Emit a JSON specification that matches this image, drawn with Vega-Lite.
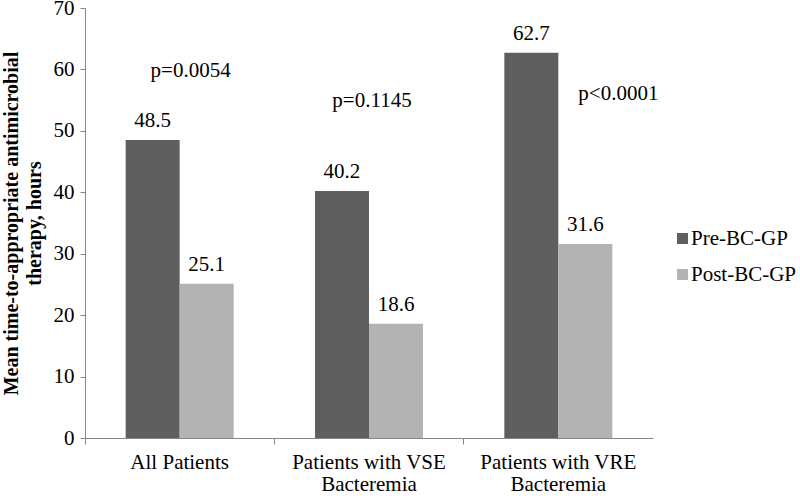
{
  "$schema": "https://vega.github.io/schema/vega-lite/v6.json",
  "width": 568,
  "height": 430,
  "autosize": {"type": "none"},
  "padding": {"left": 85, "top": 8, "right": 147, "bottom": 60},
  "background": "white",
  "config": {
    "view": {"stroke": null},
    "font": "Liberation Serif",
    "text": {"font": "Liberation Serif"}
  },
  "datasets": {
    "bars": [
      {"group": "All Patients", "period": "Pre-BC-GP", "hours": 48.5},
      {"group": "All Patients", "period": "Post-BC-GP", "hours": 25.1},
      {"group": "Patients with VSE Bacteremia", "period": "Pre-BC-GP", "hours": 40.2},
      {"group": "Patients with VSE Bacteremia", "period": "Post-BC-GP", "hours": 18.6},
      {"group": "Patients with VRE Bacteremia", "period": "Pre-BC-GP", "hours": 62.7},
      {"group": "Patients with VRE Bacteremia", "period": "Post-BC-GP", "hours": 31.6}
    ],
    "pvals": [
      {"group": "All Patients", "p": "p=0.0054", "ypos": 58.8},
      {"group": "Patients with VSE Bacteremia", "p": "p=0.1145", "ypos": 53.9},
      {"group": "Patients with VRE Bacteremia", "p": "p<0.0001", "ypos": 55.1}
    ]
  },
  "layer": [
    {
      "data": {"name": "bars"},
      "mark": {"type": "bar"},
      "encoding": {
        "x": {
          "field": "group", "type": "nominal", "sort": null,
          "scale": {"paddingInner": 0, "paddingOuter": 0},
          "axis": {
            "title": null, "labelAngle": 0, "bandPosition": 0,
            "labelFontSize": 21, "labelFont": "Liberation Serif", "labelColor": "black",
            "labelLineHeight": 22, "labelPadding": 7,
            "labelExpr": "datum.label == 'Patients with VSE Bacteremia' ? ['Patients with VSE', 'Bacteremia'] : datum.label == 'Patients with VRE Bacteremia' ? ['Patients with VRE', 'Bacteremia'] : datum.label",
            "domainColor": "#868686", "tickColor": "#868686", "tickSize": 6, "labelBound": false
          }
        },
        "xOffset": {
          "field": "period", "type": "nominal", "sort": ["Pre-BC-GP", "Post-BC-GP"],
          "scale": {"paddingInner": 0, "paddingOuter": 0.753}
        },
        "y": {
          "field": "hours", "type": "quantitative",
          "scale": {"domain": [0, 70], "nice": false},
          "axis": {
            "title": ["Mean time-to-appropriate antimicrobial", "therapy, hours"],
            "titleFont": "Liberation Serif", "titleFontSize": 20, "titleFontWeight": "bold",
            "titleColor": "black", "titleLineHeight": 23, "titlePadding": 9,
            "values": [0, 10, 20, 30, 40, 50, 60, 70], "grid": false,
            "labelFontSize": 21, "labelFont": "Liberation Serif", "labelColor": "black",
            "labelPadding": 6, "tickSize": 5,
            "domainColor": "#868686", "tickColor": "#868686"
          }
        },
        "color": {
          "field": "period", "type": "nominal", "sort": ["Pre-BC-GP", "Post-BC-GP"],
          "scale": {"domain": ["Pre-BC-GP", "Post-BC-GP"], "range": ["#5f5f5f", "#b3b3b3"]},
          "legend": {
            "title": null, "orient": "none", "legendX": 587, "legendY": 220, "padding": 0,
            "symbolType": "square", "symbolSize": 121, "symbolStrokeWidth": 0,
            "labelFont": "Liberation Serif", "labelFontSize": 21, "labelColor": "black",
            "rowPadding": 14, "labelOffset": -2, "labelLimit": 200
          }
        }
      }
    },
    {
      "data": {"name": "bars"},
      "mark": {"type": "text", "baseline": "alphabetic", "dy": -13, "fontSize": 21, "color": "black", "font": "Liberation Serif"},
      "encoding": {
        "x": {"field": "group", "type": "nominal", "sort": null},
        "xOffset": {"field": "period", "type": "nominal", "sort": ["Pre-BC-GP", "Post-BC-GP"]},
        "y": {"field": "hours", "type": "quantitative"},
        "text": {"field": "hours", "type": "quantitative", "format": ".1f"}
      }
    },
    {
      "data": {"name": "pvals"},
      "transform": [{"filter": "datum.group == 'All Patients'"}],
      "mark": {"type": "text", "baseline": "alphabetic", "dx": 11, "fontSize": 21, "color": "black", "font": "Liberation Serif"},
      "encoding": {
        "x": {"field": "group", "type": "nominal", "sort": null},
        "y": {"field": "ypos", "type": "quantitative"},
        "text": {"field": "p"}
      }
    },
    {
      "data": {"name": "pvals"},
      "transform": [{"filter": "datum.group == 'Patients with VSE Bacteremia'"}],
      "mark": {"type": "text", "baseline": "alphabetic", "dx": 3, "fontSize": 21, "color": "black", "font": "Liberation Serif"},
      "encoding": {
        "x": {"field": "group", "type": "nominal", "sort": null},
        "y": {"field": "ypos", "type": "quantitative"},
        "text": {"field": "p"}
      }
    },
    {
      "data": {"name": "pvals"},
      "transform": [{"filter": "datum.group == 'Patients with VRE Bacteremia'"}],
      "mark": {"type": "text", "baseline": "alphabetic", "dx": 60, "fontSize": 21, "color": "black", "font": "Liberation Serif"},
      "encoding": {
        "x": {"field": "group", "type": "nominal", "sort": null},
        "y": {"field": "ypos", "type": "quantitative"},
        "text": {"field": "p"}
      }
    }
  ]
}
